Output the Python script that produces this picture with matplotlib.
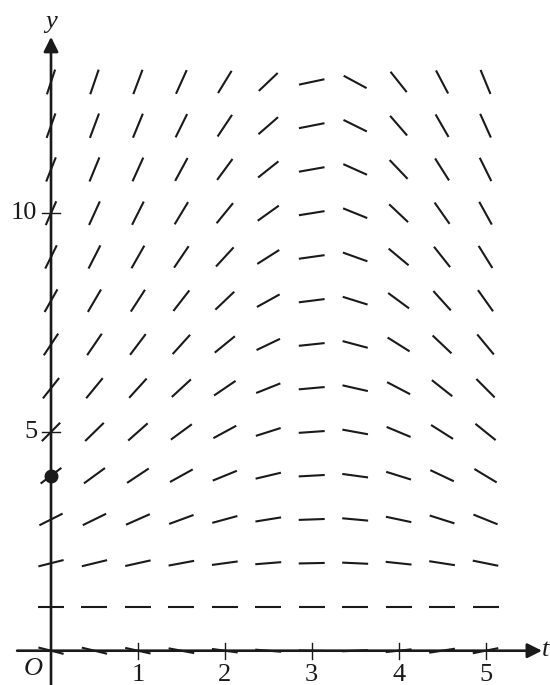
import matplotlib
matplotlib.use("Agg")
import matplotlib.pyplot as plt
import numpy as np

# grid of the slope field
t_vals = [0, 0.5, 1, 1.5, 2, 2.5, 3, 3.5, 4, 4.5, 5]
y_vals = [0, 1, 2, 3, 4, 5, 6, 7, 8, 9, 10, 11, 12, 13]

# slopes, one row per y value (y = 0 ... 13)
slopes = [
    [-0.50, -0.48, -0.44, -0.37, -0.27, -0.16, -0.04, 0.09, 0.21, 0.31, 0.40],
    [0.00, 0.00, 0.00, 0.00, 0.00, 0.00, 0.00, 0.00, 0.00, 0.00, 0.00],
    [0.50, 0.48, 0.44, 0.37, 0.27, 0.16, 0.04, -0.09, -0.21, -0.31, -0.40],
    [1.00, 0.97, 0.88, 0.73, 0.54, 0.32, 0.07, -0.18, -0.42, -0.63, -0.80],
    [1.50, 1.45, 1.32, 1.10, 0.81, 0.47, 0.11, -0.27, -0.62, -0.94, -1.20],
    [2.00, 1.94, 1.76, 1.46, 1.08, 0.63, 0.14, -0.36, -0.83, -1.26, -1.60],
    [2.50, 2.42, 2.19, 1.83, 1.35, 0.79, 0.18, -0.45, -1.04, -1.57, -2.00],
    [3.00, 2.91, 2.63, 2.20, 1.62, 0.95, 0.21, -0.53, -1.25, -1.88, -2.40],
    [3.50, 3.39, 3.07, 2.56, 1.89, 1.10, 0.25, -0.62, -1.46, -2.20, -2.80],
    [4.00, 3.88, 3.51, 2.93, 2.16, 1.26, 0.28, -0.71, -1.66, -2.51, -3.20],
    [4.50, 4.36, 3.95, 3.29, 2.43, 1.42, 0.32, -0.80, -1.87, -2.83, -3.60],
    [5.00, 4.84, 4.39, 3.66, 2.70, 1.58, 0.35, -0.89, -2.08, -3.14, -4.01],
    [5.50, 5.33, 4.83, 4.02, 2.97, 1.73, 0.39, -0.98, -2.29, -3.46, -4.41],
    [6.00, 5.81, 5.27, 4.39, 3.24, 1.89, 0.42, -1.07, -2.50, -3.77, -4.81],
]

x_ticks = [1, 2, 3, 4, 5]
y_ticks = [5, 10]
point = (0, 4)

ink = "#1a1a1a"
plt.rcParams["font.family"] = ["Liberation Serif", "DejaVu Serif"]

fig = plt.figure(figsize=(5.5, 6.85), dpi=100)
ax = fig.add_axes([0, 0, 1, 1])
ax.set_xlim(-0.587, 5.742)
ax.set_ylim(-0.784, 14.873)
ax.axis("off")

# pixels per data unit, to keep every segment the same length on screen
sx = 550 / (5.742 + 0.587)
sy = 685 / (14.873 + 0.784)
half = 13.0  # half segment length in px

for i, yv in enumerate(y_vals):
    for j, tv in enumerate(t_vals):
        m = slopes[i][j]
        vx, vy = 1.0, m * sy / sx
        n = np.hypot(vx, vy)
        dt = half * vx / n / sx
        dy = half * vy / n / sy
        ax.plot([tv - dt, tv + dt], [yv - dy, yv + dy], color=ink, lw=1.5,
                solid_capstyle="butt", zorder=2)

# axes with arrow heads
ax.annotate("", xy=(5.65, 0), xytext=(-0.39, 0),
            arrowprops=dict(arrowstyle="-|>", mutation_scale=22, lw=1.9,
                            color=ink, shrinkA=0, shrinkB=0), zorder=3)
ax.annotate("", xy=(0, 14.03), xytext=(0, -0.784),
            arrowprops=dict(arrowstyle="-|>", mutation_scale=22, lw=1.9,
                            color=ink, shrinkA=0, shrinkB=0), zorder=3)

# tick marks crossing the axes
for xt in x_ticks:
    ax.plot([xt, xt], [-8 / sy, 8 / sy], color=ink, lw=1.0, zorder=3)
    ax.text(xt, -24 / sy, str(xt), ha="center", va="center", fontsize=19,
            color=ink)
for yt in y_ticks:
    ax.plot([-9 / sx, 9 / sx], [yt, yt], color=ink, lw=1.0, zorder=3)
    ax.text(-14 / sx, yt, str(yt), ha="right", va="center", fontsize=19,
            color=ink)

ax.text(-18 / sx, -18 / sy, "O", ha="center", va="center", fontsize=19,
        style="italic", color=ink)
ax.text(0, 14.38, "y", ha="center", va="center", fontsize=19,
        style="italic", color=ink)
ax.text(5.738, 0.02, "t", ha="right", va="center", fontsize=19,
        style="italic", color=ink)

ax.plot([point[0]], [point[1]], "o", color=ink, markersize=9, zorder=4)

fig.savefig("out.png", dpi=100)
